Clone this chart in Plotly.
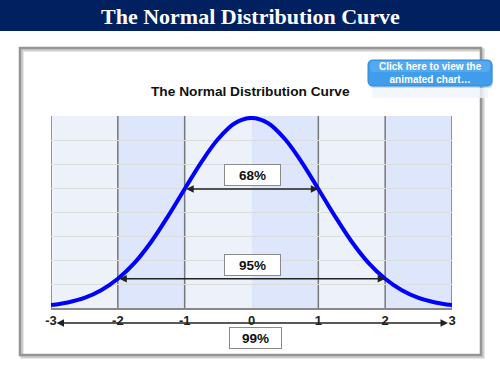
import plotly.graph_objects as go

# ---- data ----
curve_x = [-3, -2.75, -2.5, -2.25, -2, -1.75, -1.5, -1.25, -1, -0.75, -0.5, -0.25,
           0, 0.25, 0.5, 0.75, 1, 1.25, 1.5, 1.75, 2, 2.25, 2.5, 2.75, 3]
curve_y = [0.006, 0.0115, 0.021, 0.037, 0.061, 0.094, 0.138, 0.191, 0.248, 0.304, 0.352, 0.385,
           0.396, 0.385, 0.352, 0.304, 0.248, 0.191, 0.138, 0.094, 0.061, 0.037, 0.021, 0.0115, 0.006]
tick_vals = [-3, -2, -1, 0, 1, 2, 3]
tick_text = ["-3", "-2", "-1", "0", "1", "2", "3"]
band_edges = [-3, -2, -1, 0, 1, 2, 3]
divider_x = [-3, -2, -1, 1, 2, 3]
interval_labels = ["68%", "95%", "99%"]
interval_sd = [1, 2, 3]

W, H = 500, 375
L, R, T, B = 51, 48, 116, 67
PW, PH = W - L - R, H - T - B


def px_x(px):
    return (px - L) / PW


def px_y(py):
    return (H - B - py) / PH


def rrect(x0, y0, x1, y1, r):
    rx, ry = r / PW, r / PH
    a, b, c, d = px_x(x0), px_y(y1), px_x(x1), px_y(y0)  # left,bottom,right,top
    return (f"M {a+rx},{b} L {c-rx},{b} Q {c},{b} {c},{b+ry} L {c},{d-ry} Q {c},{d} {c-rx},{d} "
            f"L {a+rx},{d} Q {a},{d} {a},{d-ry} L {a},{b+ry} Q {a},{b} {a+rx},{b} Z")


fig = go.Figure()
fig.add_trace(go.Scatter(x=curve_x, y=curve_y, mode="lines",
                         line=dict(color="#0000FF", width=4, shape="spline", smoothing=1.0),
                         hoverinfo="skip", showlegend=False))

shapes = []
# panel with shadow
shapes.append(dict(type="rect", xref="paper", yref="paper", layer="below",
                   x0=px_x(22), x1=px_x(483), y0=px_y(357), y1=px_y(50),
                   line=dict(color="#CFCFCF", width=3)))
shapes.append(dict(type="rect", xref="paper", yref="paper", layer="below",
                   x0=px_x(20), x1=px_x(481), y0=px_y(355), y1=px_y(48),
                   line=dict(color="#959595", width=2.5)))
# header bar
shapes.append(dict(type="rect", xref="paper", yref="paper", layer="above",
                   x0=px_x(-2), x1=px_x(502), y0=px_y(31), y1=px_y(-2),
                   fillcolor="#002060", line=dict(width=0)))
# bands
for i in range(len(band_edges) - 1):
    col = "#EDF1F9" if i % 2 == 0 else "#DDE6FA"
    shapes.append(dict(type="rect", xref="x", yref="paper", layer="below",
                       x0=band_edges[i], x1=band_edges[i + 1], y0=0, y1=1,
                       fillcolor=col, line=dict(width=0)))
# vertical dividers
for xv in divider_x:
    shapes.append(dict(type="line", xref="x", yref="paper", layer="between",
                       x0=xv, x1=xv, y0=0, y1=1, line=dict(color="#777777", width=1.5)))
# button
shapes.append(dict(type="path", xref="paper", yref="paper", layer="above",
                   path=rrect(369, 62, 493, 88, 5), fillcolor="#9BB9D6", opacity=0.5,
                   line=dict(width=0)))
shapes.append(dict(type="path", xref="paper", yref="paper", layer="above",
                   path=rrect(368, 60, 492, 86, 5), fillcolor="#3F9DEC",
                   line=dict(color="#2F8AD8", width=1)))
shapes.append(dict(type="path", xref="paper", yref="paper", layer="above",
                   path=rrect(370, 61, 490, 72, 4), fillcolor="#6BB6F3", opacity=0.5,
                   line=dict(width=0)))
shapes.append(dict(type="rect", xref="paper", yref="paper", layer="above",
                   x0=px_x(372), x1=px_x(488), y0=px_y(98), y1=px_y(88),
                   fillcolor="#EEF5FC", opacity=0.8, line=dict(width=0)))

annotations = []


def text_ann(px, py, text, font):
    return dict(xref="paper", yref="paper", x=px_x(px), y=px_y(py), xanchor="center",
                yanchor="middle", text=text, showarrow=False, font=font)


annotations.append(text_ann(250, 16.5, "<b>The Normal Distribution Curve</b>",
                            dict(family="Liberation Serif", size=22, color="white")))
annotations.append(text_ann(250.5, 91, "<b>The Normal Distribution Curve</b>",
                            dict(family="Liberation Sans", size=13.7, color="#111111")))
annotations.append(text_ann(430, 73.5, "<b>Click here to view the<br>animated chart…</b>",
                            dict(family="Liberation Sans", size=10, color="white")))
annotations.append(text_ann(430, 92, "<b>animated chart…</b>",
                            dict(family="Liberation Sans", size=10, color="#F4F8FD")))

box_font = dict(family="Liberation Sans", size=13.5, color="#111111")
for lab, sd in zip(interval_labels, interval_sd):
    if sd < 3:
        yv = curve_y[curve_x.index(sd)]
        annotations.append(dict(xref="x", yref="y", x=sd, y=yv, axref="x", ayref="y",
                                ax=-sd, ay=yv, text="", showarrow=True, arrowside="end+start",
                                arrowhead=2, arrowsize=1, arrowwidth=1.5, arrowcolor="#222222",
                                standoff=0, startstandoff=0))
        annotations.append(dict(xref="x", yref="y", x=0.02, y=yv, xanchor="center",
                                yanchor="bottom", yshift=3, text=f"<b>{lab}</b>",
                                showarrow=False, bgcolor="white", bordercolor="#8A8A8A",
                                borderwidth=1, borderpad=1, width=53, height=18, font=box_font))
    else:
        yp = px_y(323)
        annotations.append(dict(xref="x", yref="paper", x=sd - 0.06, y=yp, axref="x",
                                ayref="pixel", ax=-sd + 0.06, ay=0, text="",
                                showarrow=True, arrowside="end+start",
                                arrowhead=2, arrowsize=1, arrowwidth=1.5, arrowcolor="#222222",
                                standoff=0, startstandoff=0))
        annotations.append(dict(xref="x", yref="paper", x=0.06, y=yp, xanchor="center",
                                yanchor="top", yshift=-4, text=f"<b>{lab}</b>",
                                showarrow=False, bgcolor="white", bordercolor="#8A8A8A",
                                borderwidth=1, borderpad=1, width=49, height=18, font=box_font))

fig.update_layout(
    width=W, height=H, margin=dict(l=L, r=R, t=T, b=B, pad=0),
    paper_bgcolor="white", plot_bgcolor="rgba(0,0,0,0)",
    shapes=shapes, annotations=annotations, showlegend=False,
    xaxis=dict(range=[-3, 3], tickvals=tick_vals, ticktext=tick_text, showgrid=False,
               zeroline=False, showline=True, linecolor="#888888", linewidth=1.5,
               ticks="", tickfont=dict(family="Liberation Sans", size=13, color="#222222",
                                       weight="bold"), fixedrange=True),
    yaxis=dict(range=[0, 0.4], dtick=0.05, showgrid=True, gridcolor="#DCDCDC", gridwidth=1,
               zeroline=False, showticklabels=False, ticks="", fixedrange=True),
)

fig.write_html("out.html", config={"displayModeBar": False},
               post_script="document.body.style.margin='0';document.body.style.padding='0';")
